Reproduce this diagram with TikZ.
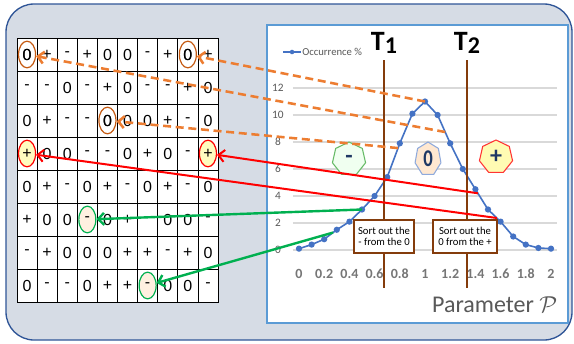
\documentclass[tikz,border=0pt]{standalone}
\usepackage{fontspec}
\setmainfont{Carlito}
\newfontfamily\gridfont{Liberation Sans}
\usetikzlibrary{arrows.meta,shapes.geometric}

\definecolor{panelbg}{HTML}{D6DCE5}
\definecolor{panelline}{HTML}{2F5597}
\definecolor{chartline}{HTML}{5B9BD5}
\definecolor{curveblue}{HTML}{4472C4}
\definecolor{gridgray}{HTML}{D9D9D9}
\definecolor{labelgray}{HTML}{595959}
\definecolor{tickgray}{HTML}{767676}
\definecolor{tbrown}{HTML}{843C0C}
\definecolor{orangeA}{HTML}{ED7D31}
\definecolor{orangeB}{HTML}{C55A11}
\definecolor{greenA}{HTML}{00B050}
\definecolor{navy}{HTML}{1F3864}

\begin{document}
\begin{tikzpicture}[x=0.75pt, y=-0.75pt,
  cell/.style={draw, fill=white, line width=0.6pt, minimum width=15.075pt,
    minimum height=24.75pt, inner sep=0pt, font=\gridfont\fontsize{12}{12}\selectfont},
  pick/.style={ellipse, line width=0.9pt, minimum width=12.75pt, minimum height=20pt,
    inner sep=0pt, font=\gridfont\fontsize{12}{12}\selectfont},
  opick/.style={pick, draw=orangeB},
  rpick/.style={pick, draw=red, fill=yellow!25},
  gpick/.style={pick, draw=greenA, fill=orange!12},
  oarrow/.style={orangeA, line width=1.9pt, dash pattern=on 6pt off 3.5pt,
    -{Straight Barb[length=4.5pt, width=9pt]}},
  rarrow/.style={red, line width=1.5pt, -{Straight Barb[length=4.5pt, width=9pt]}},
  garrow/.style={greenA, line width=1.8pt, -{Straight Barb[length=4.5pt, width=9pt]}},
  curve/.style={curveblue, line width=1.2pt, mark=*, mark size=1.7pt,
    mark options={fill=curveblue}},
  tline/.style={tbrown, line width=1.5pt},
  tlabel/.style={font=\bfseries\fontsize{21}{21}\selectfont},
  sortbox/.style={draw=tbrown, fill=white, line width=0.8pt, align=center,
    minimum height=24.75pt, inner xsep=1pt, inner ysep=0pt,
    font=\fontsize{8}{8.5}\selectfont},
  hept/.style={regular polygon, regular polygon sides=7, minimum size=25.5pt,
    inner sep=0pt, line width=0.8pt, text=navy, font=\bfseries\fontsize{18}{18}\selectfont}]

  \useasboundingbox (0,0) rectangle (574,343);

  % Background panel
  \draw[panelline, fill=panelbg, line width=1pt, rounded corners=21pt]
    (6,4) rectangle (572,340);

  % Sign grid
  \foreach \rowlist [count=\r] in {
      {0,+,-,+,0,0,-,+,0,+},
      {-,-,0,-,+,0,-,-,+,0},
      {0,+,-,-,0,0,0,+,-,0},
      {+,0,0,-,-,0,+,0,-,+},
      {0,+,-,0,+,-,0,+,-,0},
      {+,0,0,-,0,+,-,0,0,-},
      {-,+,0,0,0,+,+,-,+,0},
      {0,-,-,0,+,+,-,0,0,-}}{
    \foreach \s [count=\c] in \rowlist
      \node[cell] (c\r-\c) at ({17+20.1*(\c-0.5)}, {38+33*(\r-0.5)}) {\s};
  }

  % Picked cells
  \node[opick] (m1) at (c1-1) {0};
  \node[opick] (m2) at (c1-9) {0};
  \node[opick] (m3) at (c3-5) {0};
  \node[rpick] (m4) at (c4-1) {+};
  \node[rpick] (m5) at (c4-10) {+};
  \node[gpick] (m6) at (c6-4) {-};
  \node[gpick] (m7) at (c8-7) {-};

  % Chart panel
  \draw[chartline, fill=white, line width=1.1pt] (267,25) rectangle (568,323);

  \begin{scope}[shift={(224.25pt,-187.5pt)}, x=94.5pt, y=10.125pt]
    \foreach \v in {0,2,...,12} {
      \draw[gridgray, line width=0.8pt] (-0.048,\v) -- (2.048,\v);
      \node[font=\fontsize{8.5}{8.5}\selectfont, text=labelgray] at (-0.167,\v) {\v};
    }
    \foreach \p in {0,0.2,0.4,0.6,0.8,1,1.2,1.4,1.6,1.8,2}
      \node[font=\bfseries\fontsize{10.5}{10.5}\selectfont, text=tickgray] at (\p,-1.78) {\p};

    % Occurrence curve
    \draw[curve] plot coordinates {(0,0.1) (0.1,0.4) (0.2,0.8) (0.3,1.5) (0.4,2.1)
      (0.5,3.0) (0.6,4.0) (0.7,5.4) (0.8,7.9) (0.9,10.1) (1.0,11.0) (1.1,10.0)
      (1.2,7.9) (1.3,6.0) (1.4,4.5) (1.5,3.0) (1.6,2.1) (1.7,1.0) (1.8,0.4)
      (1.9,0.15) (2.0,0.1)};

    \coordinate (pk) at (1.0,11.0);
    \coordinate (oa) at (1.16,8.74);
    \coordinate (ob) at (0.786,7.55);
    \coordinate (ra) at (1.42,4.2);
    \coordinate (rb) at (1.57,2.37);
    \coordinate (ga) at (0.5,3.0);
    \coordinate (gb) at (0.27,1.29);
  \end{scope}

  % Legend
  \draw[curveblue, line width=1.2pt] (283,52) -- (301,52);
  \fill[curveblue] (292,52) circle (1.7pt);
  \node[font=\fontsize{8}{8}\selectfont, text=labelgray, anchor=west, inner sep=0pt]
    (leg) at (302,52) {Occurrence \%};

  % Thresholds
  \node[tlabel] (t1) at (384,43) {T\raisebox{-0.12em}{\fontsize{18}{18}\selectfont 1}};
  \node[tlabel] (t2) at (467,43) {T\raisebox{-0.12em}{\fontsize{18}{18}\selectfont 2}};
  \coordinate (t1-top) at (384,60);
  \coordinate (t1-bot) at (384,288);
  \coordinate (t2-top) at (467,60);
  \coordinate (t2-bot) at (467,288);
  \draw[tline] (t1-top) -- (t1-bot);
  \draw[tline] (t2-top) -- (t2-bot);

  \node[sortbox, minimum width=45pt] (s1) at (384,236.5) {Sort out the\\- from the 0};
  \node[sortbox, minimum width=48pt] (s2) at (465,236.5) {Sort out the\\0 from the +};

  % Classes
  \node[hept, draw=green!55!black!60, fill=green!6] (hm) at (349,159) {-};
  \begin{scope}[shift={(428,159)}, xscale=0.78]
    \node[hept, draw=curveblue!60, fill=orange!18, transform shape] (hz) at (0,0) {0};
  \end{scope}
  \node[hept, draw=red!80, fill=yellow!30] (hp) at (496,157) {+};

  % Axis title
  \node[font=\fontsize{18}{18}\selectfont, text=labelgray, anchor=east] (param)
    at (562,305) {Parameter $\mathcal{P}$};

  % Mapping arrows
  \draw[oarrow] (pk) -- (m2);
  \draw[oarrow] (oa) -- (m1);
  \draw[oarrow] (ob) -- (m3);
  \draw[rarrow] (ra) -- (m5);
  \draw[rarrow] (rb) -- (m4);
  \draw[garrow] (ga) -- (m6);
  \draw[garrow] (gb) -- (m7);

\end{tikzpicture}
\end{document}
